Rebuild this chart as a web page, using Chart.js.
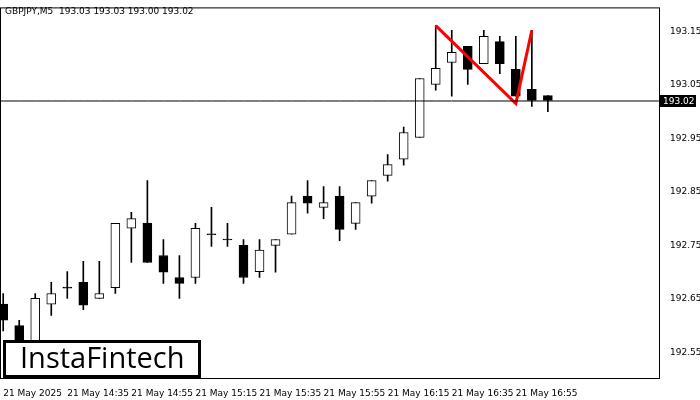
<!DOCTYPE html>
<html>
<head>
<meta charset="utf-8">
<script src="https://cdn.jsdelivr.net/npm/chart.js@4.4.0/dist/chart.umd.min.js"></script>
<style>
  body { margin: 0; background: #fff; }
  #wrap { width: 700px; height: 400px; }
</style>
</head>
<body>
<div id="wrap"><canvas id="chart" width="700" height="400"></canvas></div>
<script>
// candles, M5
const opens  = [192.640,192.600,192.526,192.640,192.671,192.681,192.651,192.671,192.782,192.791,192.731,192.690,192.690,192.771,192.761,192.750,192.701,192.750,192.771,192.842,192.821,192.842,192.791,192.842,192.881,192.911,192.952,193.051,193.092,193.122,193.090,193.131,193.079,193.042,193.030];
const highs  = [192.660,192.610,192.660,192.681,192.701,192.720,192.720,192.791,192.812,192.871,192.761,192.731,192.791,192.821,192.791,192.761,192.761,192.761,192.842,192.871,192.860,192.860,192.830,192.871,192.920,192.971,193.062,193.161,193.152,193.122,193.152,193.141,193.141,193.152,193.030];
const lows   = [192.590,192.565,192.520,192.619,192.651,192.630,192.651,192.660,192.718,192.718,192.679,192.651,192.679,192.748,192.748,192.679,192.690,192.700,192.771,192.810,192.800,192.759,192.780,192.829,192.870,192.900,192.952,193.040,193.029,193.051,193.090,193.071,193.029,193.010,193.000];
const closes = [192.610,192.572,192.651,192.660,192.671,192.638,192.660,192.791,192.800,192.718,192.700,192.679,192.782,192.771,192.761,192.690,192.741,192.761,192.830,192.829,192.830,192.780,192.830,192.871,192.901,192.961,193.062,193.081,193.111,193.079,193.141,193.090,193.029,193.021,193.021];

const timeLabels = ['21 May 2025','21 May 14:35','21 May 14:55','21 May 15:15','21 May 15:35','21 May 15:55','21 May 16:15','21 May 16:35','21 May 16:55'];
const priceTicks = [193.15,193.05,192.95,192.85,192.75,192.65,192.55];
const bidPrice = 193.02;
// red pattern line: candle index and price
const patternIdx = [27, 32, 33];
const patternVal = [193.161, 193.015, 193.152];

const bodies = opens.map((o, i) => {
  const c = closes[i];
  if (Math.abs(o - c) < 0.001) return { x: i, y: [c - 0.0008, c + 0.0008] };
  return { x: i, y: [o, c] };
});
const wicks = opens.map((o, i) => ({ x: i, y: [lows[i], highs[i]] }));
const isUp = opens.map((o, i) => closes[i] - o > 0.001);

const overlay = {
  id: 'overlay',
  afterDraw(chart) {
    const ctx = chart.ctx, a = chart.chartArea, ys = chart.scales.y;
    ctx.save();
    ctx.strokeStyle = '#000'; ctx.lineWidth = 1;
    ctx.strokeRect(a.left + 0.5, a.top + 0.5, a.right - a.left - 1, a.bottom - a.top);
    // price tag
    const py = Math.round(ys.getPixelForValue(bidPrice));
    ctx.fillStyle = '#000';
    ctx.fillRect(a.right, py - 6, 36, 12);
    ctx.fillStyle = '#fff';
    ctx.font = '9px "DejaVu Sans"';
    ctx.textBaseline = 'middle';
    ctx.fillText(bidPrice.toFixed(2), a.right + 3, py + 1);
    // title
    ctx.fillStyle = '#000';
    ctx.fillText('GBPJPY,M5  193.03 193.03 193.00 193.02', 5, 12);
    // logo
    ctx.fillStyle = '#fff';
    ctx.fillRect(3, 340, 198, 38);
    ctx.lineWidth = 3;
    ctx.strokeRect(4.5, 341.5, 195, 35);
    ctx.fillStyle = '#000';
    ctx.font = '500 29px "Open Sans"';
    ctx.fillText('InstaFintech', 20, 360);
    ctx.restore();
  }
};

new Chart(document.getElementById('chart'), {
  data: {
    datasets: [
      { type: 'line', data: opens.map((o, i) => ({ x: i - 1, y: bidPrice })).concat([{ x: 42, y: bidPrice }]),
        borderColor: '#000', borderWidth: 1, pointRadius: 0, order: 0 },
      { type: 'bar', data: wicks, backgroundColor: '#000', barThickness: 1, order: 3 },
      { type: 'bar', data: bodies, backgroundColor: isUp.map(u => u ? '#fff' : '#000'),
        borderColor: '#000', borderWidth: 1, borderSkipped: false, barThickness: 9, order: 2 },
      { type: 'line', data: patternIdx.map((x, k) => ({ x: x, y: patternVal[k] })),
        borderColor: '#ff0000', borderWidth: 3, pointRadius: 0, order: 1 }
    ]
  },
  options: {
    responsive: false,
    animation: false,
    grouped: false,
    layout: { padding: { top: 0 } },
    plugins: { legend: { display: false }, tooltip: { enabled: false } },
    scales: {
      x: {
        type: 'linear', offset: false, min: -0.2, max: 41,
        grid: { display: false, drawTicks: true },
        border: { display: false },
        afterBuildTicks: s => { s.ticks = timeLabels.map((t, k) => ({ value: k * 4 })); },
        afterFit: s => { s.height = 22; },
        ticks: {
          align: 'start', maxRotation: 0, autoSkip: false, color: '#000', padding: 2,
          font: { family: 'DejaVu Sans', size: 9 },
          callback: (v) => timeLabels[Math.round(v / 4)]
        }
      },
      y: {
        position: 'right', min: 192.502, max: 193.195,
        grid: { display: false },
        border: { display: false },
        afterBuildTicks: s => { s.ticks = priceTicks.map(v => ({ value: v })); },
        afterFit: s => { s.width = 40; },
        ticks: {
          color: '#000', padding: 2,
          font: { family: 'DejaVu Sans', size: 9 },
          callback: v => v.toFixed(2)
        }
      }
    }
  },
  plugins: [overlay]
});
</script>
</body>
</html>
